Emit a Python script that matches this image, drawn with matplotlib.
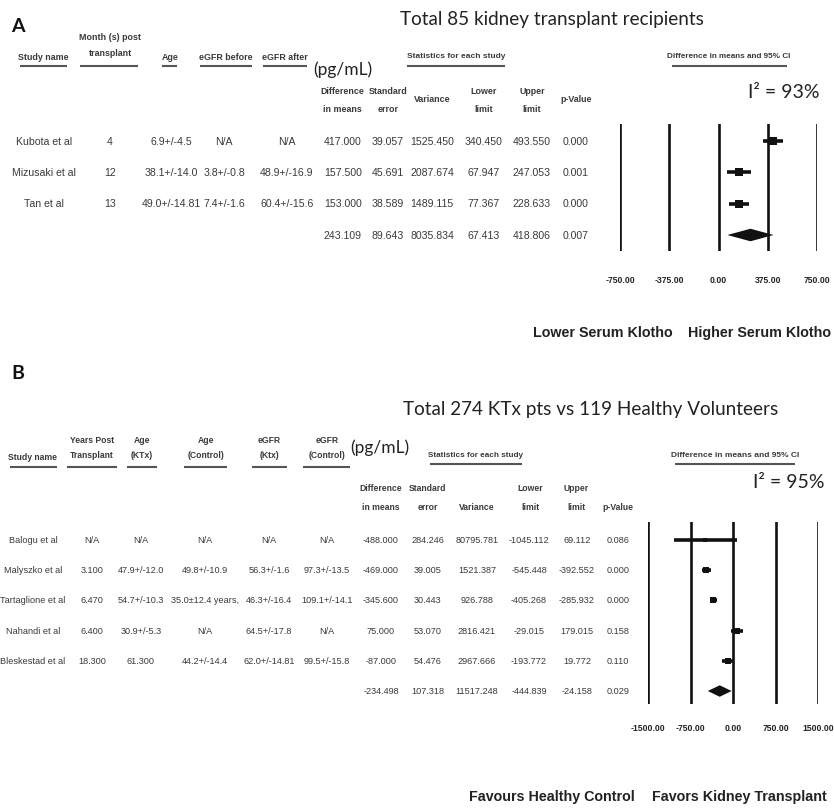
import matplotlib
matplotlib.use('Agg')
import matplotlib.pyplot as plt
from matplotlib import font_manager

# ---------------- data: panel A ----------------
a_title = 'Total 85 kidney transplant recipients'
a_studies = ['Kubota et al', 'Mizusaki et al', 'Tan et al']
a_months = ['4', '12', '13']
a_age = ['6.9+/-4.5', '38.1+/-14.0', '49.0+/-14.81']
a_egfr_before = ['N/A', '3.8+/-0.8', '7.4+/-1.6']
a_egfr_after = ['N/A', '48.9+/-16.9', '60.4+/-15.6']
a_diff = [417.000, 157.500, 153.000]
a_se = [39.057, 45.691, 38.589]
a_var = [1525.450, 2087.674, 1489.115]
a_lower = [340.450, 67.947, 77.367]
a_upper = [493.550, 247.053, 228.633]
a_p = [0.000, 0.001, 0.000]
a_sum = [243.109, 89.643, 8035.834, 67.413, 418.806, 0.007]  # diff, se, var, lower, upper, p
a_ticks = [-750, -375, 0, 375, 750]
a_i2 = 93

# ---------------- data: panel B ----------------
b_title = 'Total 274 KTx pts vs 119 Healthy Volunteers'
b_studies = ['Balogu et al', 'Malyszko et al', 'Tartaglione et al', 'Nahandi et al', 'Bleskestad et al']
b_years = ['N/A', '3.100', '6.470', '6.400', '18.300']
b_age_ktx = ['N/A', '47.9+/-12.0', '54.7+/-10.3', '30.9+/-5.3', '61.300']
b_age_ctrl = ['N/A', '49.8+/-10.9', '35.0\u00b112.4 years,', 'N/A', '44.2+/-14.4']
b_egfr_ktx = ['N/A', '56.3+/-1.6', '46.3+/-16.4', '64.5+/-17.8', '62.0+/-14.81']
b_egfr_ctrl = ['N/A', '97.3+/-13.5', '109.1+/-14.1', 'N/A', '99.5+/-15.8']
b_diff = [-488.000, -469.000, -345.600, 75.000, -87.000]
b_se = [284.246, 39.005, 30.443, 53.070, 54.476]
b_var = [80795.781, 1521.387, 926.788, 2816.421, 2967.666]
b_lower = [-1045.112, -545.448, -405.268, -29.015, -193.772]
b_upper = [69.112, -392.552, -285.932, 179.015, 19.772]
b_p = [0.086, 0.000, 0.000, 0.158, 0.110]
b_sum = [-234.498, 107.318, 11517.248, -444.839, -24.158, 0.029]
b_ticks = [-1500, -750, 0, 750, 1500]
b_i2 = 95

# ---------------- fonts ----------------
names = {f.name for f in font_manager.fontManager.ttflist}
NARROW = 'Liberation Sans Narrow' if 'Liberation Sans Narrow' in names else 'Liberation Sans'
K = 1.0 if NARROW == 'Liberation Sans Narrow' else 0.84
BIG = 'Lato' if 'Lato' in names else 'DejaVu Sans'
TXT = '#3a3a3a'
DARK = '#222222'

W, H = 834, 812
fig = plt.figure(figsize=(W / 100, H / 100), dpi=100)
base = fig.add_axes([0, 0, 1, 1])
base.set_xlim(0, W)
base.set_ylim(H, 0)
base.axis('off')


def t(x, y, s, size=8.0, ha='center', weight='normal', family=None, color=TXT):
    base.text(x, y, s, ha=ha, va='center', fontsize=size * K if family is None else size,
              fontweight=weight, family=family or NARROW, color=color)


def uline(x0, x1, y):
    base.plot([x0, x1], [y, y], color='#555555', lw=1.5, solid_capstyle='butt')


def fmt(v):
    return '%.3f' % v


def dl_weights(diff, var):
    w = [1.0 / v for v in var]
    sw = sum(w)
    m = sum(wi * yi for wi, yi in zip(w, diff)) / sw
    q = sum(wi * (yi - m) ** 2 for wi, yi in zip(w, diff))
    c = sw - sum(wi * wi for wi in w) / sw
    tau2 = max(0.0, (q - (len(diff) - 1)) / c)
    ws = [1.0 / (v + tau2) for v in var]
    mx = max(ws)
    return [(x / mx) ** 0.5 for x in ws]


def forest(px0, px1, py0, py1, ticks, diff, lower, upper, var, summ, nrows, top_pad, bot_pad,
           max_ms, tick_pad, dh):
    ax = fig.add_axes([px0 / W, 1 - py1 / H, (px1 - px0) / W, (py1 - py0) / H])
    ax.set_xlim(ticks[0], ticks[-1])
    ax.set_ylim(nrows - 1 + bot_pad, -top_pad)
    for s in ax.spines.values():
        s.set_visible(False)
    ax.set_yticks([])
    ax.set_xticks(ticks)
    ax.set_xticklabels(['%.2f' % v for v in ticks], fontsize=7.4 * K, family=NARROW,
                       fontweight='bold', color=DARK)
    ax.tick_params(axis='x', length=0, pad=tick_pad)
    ax.patch.set_alpha(0)
    for v in ticks:
        ax.axvline(v, color='#111111', lw=1.9, zorder=1)
    rel = dl_weights(diff, var)
    for i, (d, lo, hi) in enumerate(zip(diff, lower, upper)):
        ax.plot([lo, hi], [i, i], color='#111111', lw=2.6, solid_capstyle='butt', zorder=3)
        ax.plot([d], [i], marker='s', color='#111111', ms=max_ms * rel[i], mew=0, zorder=4)
    r = nrows - 1
    ax.fill([summ[3], summ[0], summ[4], summ[0]], [r, r - dh, r, r + dh],
            color='#111111', lw=0, zorder=4)
    return ax


# ================= PANEL A =================
t(18, 27, 'A', size=14, weight='bold', family=BIG, color='#111111')
t(400, 20, a_title, size=13.6, ha='left', family=BIG, color=DARK)

hs = 7.6
t(110, 37, 'Month (s) post', size=hs, weight='bold')
t(110, 53, 'transplant', size=hs, weight='bold')
t(43, 57, 'Study name', size=hs, weight='bold')
t(170, 57, 'Age', size=hs, weight='bold')
t(226, 57, 'eGFR before', size=hs, weight='bold')
t(285, 57, 'eGFR after', size=hs, weight='bold')
for x0, x1 in [(20, 67), (80, 138), (162, 177), (200, 252), (263, 307)]:
    uline(x0, x1, 67)
t(313, 70, '(pg/mL)', size=12.5, ha='left', family=BIG, color=DARK)
t(456, 57, 'Statistics for each study', size=7.2, weight='bold')
uline(407, 505, 67)
t(729, 57, 'Difference in means and 95% CI', size=7.0, weight='bold')
uline(672, 787, 67)
for x, l1, l2 in [(342, 'Difference', 'in means'), (388, 'Standard', 'error'),
                  (484, 'Lower', 'limit'), (532, 'Upper', 'limit')]:
    t(x, 91, l1, size=hs, weight='bold')
    t(x, 109, l2, size=hs, weight='bold')
t(432, 100, 'Variance', size=hs, weight='bold')
t(576, 100, 'p-Value', size=hs, weight='bold')
t(820, 93, 'I\u00b2 = %d%%' % a_i2, size=14, ha='right', family=BIG, color=DARK)

a_rows_y = [142, 173, 204, 236]
vs = 9.0
for i in range(len(a_studies)):
    y = a_rows_y[i]
    t(44, y, a_studies[i], size=vs)
    t(110, y, a_months[i], size=vs)
    t(171, y, a_age[i], size=vs)
    t(224, y, a_egfr_before[i], size=vs)
    t(287, y, a_egfr_after[i], size=vs)
    for x, v in zip([343, 388, 432, 484, 532, 576],
                    [a_diff[i], a_se[i], a_var[i], a_lower[i], a_upper[i], a_p[i]]):
        t(x, y, fmt(v), size=vs)
for x, v in zip([343, 388, 432, 484, 532, 576], a_sum):
    t(x, a_rows_y[3], fmt(v), size=vs)

forest(620, 817, 125, 252, a_ticks, a_diff, a_lower, a_upper, a_var, a_sum,
       4, 0.54, 0.51, 5.6, 17, 0.2)
t(673, 333, 'Lower Serum Klotho', size=12.2, ha='right', weight='bold', color=DARK)
t(688, 333, 'Higher Serum Klotho', size=12.2, ha='left', weight='bold', color=DARK)

# ================= PANEL B =================
t(18, 374, 'B', size=14, weight='bold', family=BIG, color='#111111')
t(403, 410, b_title, size=13.6, ha='left', family=BIG, color=DARK)

hb = 7.4
t(33, 458, 'Study name', size=hb, weight='bold')
for x, l1, l2 in [(92, 'Years Post', 'Transplant'), (142, 'Age', '(KTx)'),
                  (206, 'Age', '(Control)'), (269, 'eGFR', '(Ktx)'),
                  (327, 'eGFR', '(Control)')]:
    t(x, 441, l1, size=hb, weight='bold')
    t(x, 456, l2, size=hb, weight='bold')
for x0, x1 in [(10, 57), (67, 117), (127, 157), (184, 227), (252, 287), (303, 350)]:
    uline(x0, x1, 468)
t(350, 448, '(pg/mL)', size=12.5, ha='left', family=BIG, color=DARK)
t(476, 456, 'Statistics for each study', size=7.0, weight='bold')
uline(430, 522, 465)
t(735, 456, 'Difference in means and 95% CI', size=7.2, weight='bold')
uline(675, 795, 465)
for x, l1, l2 in [(381, 'Difference', 'in means'), (428, 'Standard', 'error'),
                  (530, 'Lower', 'limit'), (576, 'Upper', 'limit')]:
    t(x, 489, l1, size=hb, weight='bold')
    t(x, 508, l2, size=hb, weight='bold')
t(477, 508, 'Variance', size=hb, weight='bold')
t(618, 508, 'p-Value', size=hb, weight='bold')
t(825, 483, 'I\u00b2 = %d%%' % b_i2, size=14, ha='right', family=BIG, color=DARK)

b_rows_y = [541, 571, 601, 632, 662, 692]
vb = 7.8
for i in range(len(b_studies)):
    y = b_rows_y[i]
    t(33, y, b_studies[i], size=vb)
    t(92, y, b_years[i], size=vb)
    t(141, y, b_age_ktx[i], size=vb)
    t(205, y, b_age_ctrl[i], size=vb)
    t(269, y, b_egfr_ktx[i], size=vb)
    t(327, y, b_egfr_ctrl[i], size=vb)
    for x, v in zip([381, 428, 477, 529, 577, 618],
                    [b_diff[i], b_se[i], b_var[i], b_lower[i], b_upper[i], b_p[i]]):
        t(x, y, fmt(v), size=vb)
for x, v in zip([381, 428, 477, 529, 577, 618], b_sum):
    t(x, b_rows_y[5], fmt(v), size=vb)

forest(648, 818, 523, 705, b_ticks, b_diff, b_lower, b_upper, b_var, b_sum,
       6, 0.6, 0.43, 4.8, 14, 0.19)
t(635, 797, 'Favours Healthy Control', size=12.2, ha='right', weight='bold', color=DARK)
t(652, 797, 'Favors Kidney Transplant', size=12.2, ha='left', weight='bold', color=DARK)

fig.savefig('out.png', dpi=100)
